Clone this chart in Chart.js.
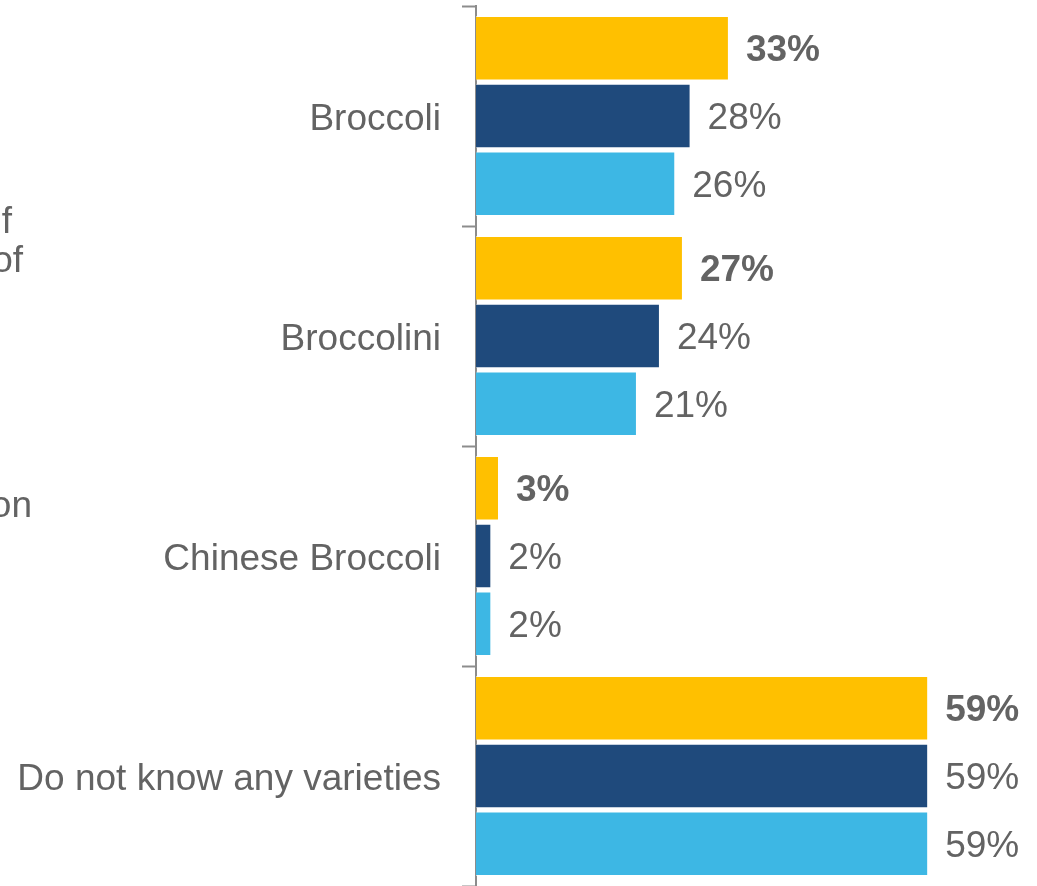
<!DOCTYPE html>
<html lang="en">
<head>
  <meta charset="UTF-8">
  <title>Broccoli varieties known</title>
  <script src="https://cdn.jsdelivr.net/npm/chart.js"></script>
  <style>
    body { margin: 0; padding: 0; background: #ffffff; overflow: hidden; }
    #wrap { position: relative; width: 1037px; height: 886px; }
  </style>
</head>
<body>
  <div id="wrap">
    <canvas id="varietyChart" width="1037" height="886"></canvas>
  </div>

  <script>
    const categories = ['Broccoli', 'Broccolini', 'Chinese Broccoli', 'Do not know any varieties'];
    const seriesNames = ['Series 1', 'Series 2', 'Series 3'];
    const series1 = [33, 27, 3, 59];
    const series2 = [28, 24, 2, 59];
    const series3 = [26, 21, 2, 59];
    const barColors = ['#FFC000', '#1F4A7C', '#3DB7E4'];

    // cut-off text box on the far left
    const sideText = [
      { text: 'f', x: 12, y: 233 },
      { text: 'of', x: 23, y: 272 },
      { text: 'on', x: 32, y: 517 }
    ];

    const textGrey = '#636363';
    const fontFamily = "'Liberation Sans', Arial, sans-serif";
    const fontSize = 37;

    // value labels to the right of each bar, first series in bold
    const valueLabels = {
      id: 'valueLabels',
      afterDatasetsDraw(chart) {
        const ctx = chart.ctx;
        ctx.save();
        ctx.fillStyle = textGrey;
        ctx.textAlign = 'left';
        ctx.textBaseline = 'middle';
        chart.data.datasets.forEach((ds, di) => {
          const meta = chart.getDatasetMeta(di);
          ctx.font = (di === 0 ? 'bold ' : '') + fontSize + 'px ' + fontFamily;
          meta.data.forEach((bar, i) => {
            ctx.fillText(ds.data[i] + '%', bar.x + 17, bar.y + 3);
          });
        });
        ctx.restore();
      }
    };

    const sideTextPlugin = {
      id: 'sideText',
      afterDraw(chart) {
        const ctx = chart.ctx;
        ctx.save();
        ctx.fillStyle = textGrey;
        ctx.font = fontSize + 'px ' + fontFamily;
        ctx.textAlign = 'right';
        ctx.textBaseline = 'alphabetic';
        sideText.forEach(t => ctx.fillText(t.text, t.x, t.y));
        ctx.restore();
      }
    };

    const ctx = document.getElementById('varietyChart').getContext('2d');
    new Chart(ctx, {
      type: 'bar',
      data: {
        labels: categories,
        datasets: [series1, series2, series3].map((d, i) => ({
          label: seriesNames[i],
          data: d,
          backgroundColor: barColors[i],
          borderColor: 'rgba(255,255,255,0.6)',
          borderWidth: 1,
          barPercentage: 0.95,
          categoryPercentage: 0.925
        }))
      },
      options: {
        indexAxis: 'y',
        responsive: false,
        animation: false,
        layout: { padding: { top: 6, right: 0, bottom: 0, left: 0 } },
        plugins: {
          legend: { display: false },
          tooltip: { enabled: false }
        },
        scales: {
          x: {
            display: false,
            min: 0,
            max: 73.2
          },
          y: {
            afterFit(scale) {
              scale.width = 476;
              scale.paddingTop = 0;
              scale.paddingBottom = 0;
            },
            grid: {
              drawOnChartArea: false,
              drawTicks: true,
              tickLength: 14,
              tickWidth: 2,
              tickColor: '#8c8c8c',
              offset: true
            },
            border: { display: true, color: '#8c8c8c', width: 2 },
            ticks: {
              color: textGrey,
              padding: 21,
              labelOffset: 4,
              font: { family: fontFamily, size: fontSize }
            }
          }
        }
      },
      plugins: [valueLabels, sideTextPlugin]
    });
  </script>
</body>
</html>
